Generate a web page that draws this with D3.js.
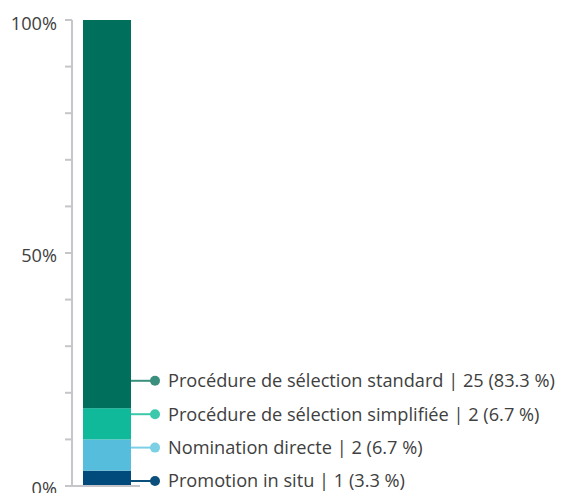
<!DOCTYPE html>
<html>
<head>
<meta charset="utf-8">
<script src="https://cdn.jsdelivr.net/npm/d3@7"></script>
<style>
  html, body { margin: 0; padding: 0; background: #fff; }
  svg { display: block; }
</style>
</head>
<body>
<svg id="chart" width="561" height="493"></svg>
<script>
// Modes de nomination (bottom to top in the stacked bar)
const categories = ["Promotion in situ", "Nomination directe", "Procédure de sélection simplifiée", "Procédure de sélection standard"];
const counts = [1, 2, 2, 25];
const shares = [3.3, 6.7, 6.7, 83.3];
const barColors = ["#004b7c", "#56bedc", "#0fb99a", "#006f5b"];
const leaderColors = ["#0b4f7c", "#7bd0e6", "#3cc9ab", "#3b8f7d"];
const tickLabels = ["0%", "50%", "100%"];

const svg = d3.select("#chart");
const font = "'Open Sans', sans-serif";
const fontSize = 18.2;

const y = d3.scaleLinear().domain([0, 100]).range([486, 20]);
const barX = 83, barW = 48;
const axisX = 72;

// stacked segments
let acc = 0;
const segs = shares.map((v, i) => {
  const s = { i, y0: acc, y1: acc + v };
  acc += v;
  return s;
});
// last segment closes at 100%
segs[segs.length - 1].y1 = 100;

svg.append("g").selectAll("rect").data(segs).join("rect")
  .attr("x", barX)
  .attr("width", barW)
  .attr("y", d => y(d.y1))
  .attr("height", d => y(d.y0) - y(d.y1))
  .attr("fill", d => barColors[d.i]);

// axis: vertical line, minor ticks every 10%, labels at 0/50/100
const axisColor = "#c6c6ca";
const ax = svg.append("g");
ax.append("line")
  .attr("x1", axisX).attr("x2", axisX)
  .attr("y1", y(100)).attr("y2", y(0))
  .attr("stroke", axisColor).attr("stroke-width", 2);
ax.selectAll("line.tick").data(d3.range(0, 101, 10)).join("line")
  .attr("class", "tick")
  .attr("x1", 65).attr("x2", axisX)
  .attr("y1", d => y(d)).attr("y2", d => y(d))
  .attr("stroke", axisColor).attr("stroke-width", 2);
// baseline under the bar
ax.append("line")
  .attr("x1", 65).attr("x2", 140)
  .attr("y1", y(0)).attr("y2", y(0))
  .attr("stroke", axisColor).attr("stroke-width", 2);
ax.selectAll("text").data([0, 50, 100]).join("text")
  .attr("x", 57)
  .attr("y", d => y(d) + (d === 100 ? 4 : 3))
  .attr("dy", "0.35em")
  .attr("text-anchor", "end")
  .attr("font-family", font)
  .attr("font-size", fontSize)
  .attr("fill", "#404040")
  .text((d, i) => tickLabels[i]);

// labels stacked upward from the bottom with fixed spacing
const spacing = 33.4;
const labelBase = y(0) - 5;
const lbl = svg.append("g");
segs.forEach((s, i) => {
  const ly = labelBase - i * spacing;
  lbl.append("line")
    .attr("x1", barX + barW).attr("x2", 155)
    .attr("y1", ly).attr("y2", ly)
    .attr("stroke", leaderColors[i]).attr("stroke-width", 2);
  lbl.append("circle")
    .attr("cx", 155).attr("cy", ly).attr("r", 5)
    .attr("fill", leaderColors[i]);
  lbl.append("text")
    .attr("x", 168)
    .attr("y", ly)
    .attr("dy", "0.35em")
    .attr("font-family", font)
    .attr("font-size", fontSize)
    .attr("fill", "#404040")
    .text(`${categories[i]} | ${counts[i]} (${shares[i]} %)`);
});
</script>
</body>
</html>
